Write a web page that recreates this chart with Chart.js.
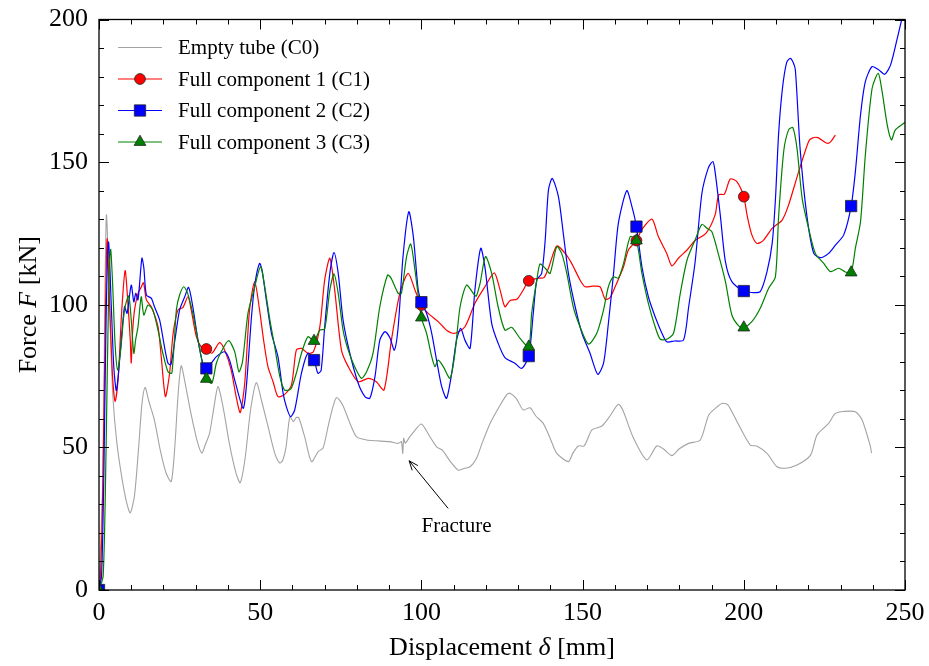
<!DOCTYPE html>
<html>
<head>
<meta charset="utf-8">
<script src="https://cdn.jsdelivr.net/npm/chart.js@4/dist/chart.umd.min.js"></script>
<style>
  html, body { margin: 0; padding: 0; background: #fff; }
  #wrap { width: 929px; height: 666px; }
</style>
</head>
<body>
<div id="wrap"><canvas id="forceChart" width="929" height="666"></canvas></div>
<script>
(function () {
  'use strict';

  // Empty tube (C0)
  const c0X = [0, 1.2, 1.8, 2.3, 3.0, 3.6, 4.3, 5.5, 7, 8.5, 9.7, 11, 12.3, 13.3, 14.3, 15.5, 17.2, 19, 20.8, 22.4,
    23.5, 24.5, 25.5, 26.8, 28.5, 30.5, 31.9, 33, 34.3, 35.5, 36.9, 38.5, 40.5, 42.5, 43.8, 45.3, 47, 48.8, 50.5, 52.5,
    54.5, 56.1, 57, 58, 59.2, 60.3, 61.2, 62, 63.8, 65.9, 68, 69.5, 71, 72.5, 73.7, 75.5, 78, 79.9, 83, 86,
    90.2, 92.8, 93.8, 94.2, 94.5, 95, 96.4, 98, 100, 102.5, 104.7, 106.5, 109, 111.4, 113, 115.1, 117.1, 119, 121.3, 124,
    126.5, 127.5, 129.5, 131.6, 133.7, 135.5, 137.8, 140, 142, 145.6, 147, 148.7, 150.5, 152.9, 156, 158.5, 161.1, 162.5, 165.8, 169.9,
    173, 175, 177.7, 180, 182.9, 186.5, 189.1, 191.5, 193.2, 195, 197.9, 202, 204, 207.2, 210.3, 212.9, 216.5, 220.7, 222.7, 226.3,
    228.4, 231, 234.6, 236.7, 239.3, 239.6];
  const c0Y = [0, 40, 100, 131.5, 112, 88, 68, 52, 40, 31, 27, 33, 50, 65, 71, 66, 59.5, 49, 41, 38,
    50, 68, 78.6, 72, 62, 52, 48, 51, 55, 63, 71.3, 64, 51, 41, 37.6, 46, 63, 72.7, 66, 57,
    48, 44.5, 45.5, 50, 60.8, 59, 60.5, 60.3, 53.7, 45, 48.5, 49.8, 57, 64, 67.5, 65, 58, 53.7, 52.6, 52.3,
    52, 51.4, 52, 47.9, 53.2, 51.5, 53.7, 56, 58.2, 54, 50.2, 49, 45, 42, 42.5, 43.2, 46.2, 52, 58.4, 64,
    68.5, 69, 67, 63.1, 63.9, 61, 58.4, 53, 47.9, 45, 48, 50.5, 50.5, 56.1, 57.5, 61, 65.1, 63, 53.2, 45.6,
    50.5, 49.5, 47.1, 49.5, 51.4, 52.6, 61.3, 64, 65.4, 65, 59, 50.8, 50.5, 47.9, 43.2, 42.7, 43.8, 47.3, 54.3, 58.4,
    61.9, 62.6, 62.5, 59.6, 50.2, 48];

  // Full component 1 (C1)
  const c1X = [0.3, 1.0, 1.7, 2.5, 3.3, 4.2, 5.0, 6, 7, 8.1, 9, 9.7, 10, 10.4, 11, 12.1, 13, 13.8, 14.7, 16.2,
    18.3, 19.3, 20.6, 21.9, 23, 24.5, 26, 27.6, 28.6, 30.2, 31.8, 33.3, 35, 37.4, 39, 41, 42.5, 43.8, 45.2, 46.7,
    48.3, 49.8, 51, 52.4, 54, 55.5, 57.5, 59.7, 61.2, 62.8, 64.8, 66.5, 68.5, 70, 71.6, 73.1, 75.2, 77.3, 80.4, 83.5,
    86, 88.4, 90.7, 93.3, 95.9, 98, 100, 102.1, 105.2, 107.8, 110.4, 113.5, 116.6, 119.7, 122.6, 124.4, 125.9, 127.5, 129.6, 131.5,
    133.3, 136.3, 138, 139.4, 142, 144.6, 146.6, 149.2, 150.8, 153, 155.4, 157, 158.5, 160.1, 162.7, 164.2, 166.7, 168.4, 171.5, 173.5,
    176.1, 177.7, 179.7, 182.4, 184.9, 188.3, 191.1, 192.2, 194, 195.8, 197.9, 200, 201, 202.5, 204.1, 206, 208.8, 211.9, 213.9, 217,
    220.1, 221.2, 223, 225.8, 227, 228.4];
  const c1Y = [0, 25, 75, 123, 100, 75, 66, 75, 97, 112, 100, 87.6, 79.6, 90, 98, 104, 106, 107.7, 101.7, 99.3,
    92.3, 81.8, 67.8, 76, 90, 98.2, 99, 102.8, 98.2, 88.8, 85, 84.5, 83, 86.7, 84, 77.1, 68, 62.2, 72.5, 98.2,
    108.1, 98.2, 88, 78.3, 73, 67.8, 68.5, 71.9, 84.1, 84.7, 83, 83.5, 92.3, 108.7, 116.3, 105.2, 84.1, 78.3, 73, 74.2,
    73, 70.1, 87.6, 104, 111, 105.2, 99.9, 97, 94.1, 91.1, 90, 92.3, 100.5, 106.3, 111.2, 105.2, 99.3, 101.5, 101.9, 105,
    108.4, 109.3, 109.5, 112.8, 120.6, 118, 114.5, 108.7, 106.3, 106.5, 106.3, 101.9, 102.5, 106.3, 113.3, 119.2, 122.5, 126.4, 130, 123.9,
    118, 113.6, 116.3, 119.2, 122.5, 125.1, 131.5, 138.5, 138.8, 144.1, 143.1, 137.9, 131.5, 124.5, 121.5, 122.5, 126.8, 129.7, 135, 146.6,
    157.2, 158.4, 158.6, 156.6, 157.2, 159.5];

  // Full component 2 (C2)
  const c2X = [0, 0.8, 1.5, 2.2, 2.95, 3.8, 4.6, 5.4, 6.5, 7.9, 8.7, 10, 10.8, 11.4, 12.1, 13.3, 13.9, 14.7, 16.2, 17.2,
    18.8, 20.3, 21.4, 22.3, 23.4, 25, 26.6, 27.8, 29.1, 30.7, 32.2, 33.3, 34.8, 36.4, 39, 40.5, 42.1, 44.7, 45.7, 47.3,
    48.3, 49.8, 50.6, 51.9, 53.5, 55.5, 57.1, 58.1, 59.4, 60.7, 62.8, 64.8, 66.7, 67.9, 68.9, 70, 71.6, 72.9, 74.2, 75.7,
    77.8, 80.4, 82.5, 84, 85.6, 87.1, 88.7, 90.2, 91.6, 92.8, 94.3, 96.1, 97.5, 99, 100, 101.6, 103.2, 104.7, 106.3, 107.8,
    109.4, 110.9, 112.2, 113.5, 115.1, 116.6, 118.4, 119.7, 121.8, 123.8, 125.9, 129, 131.1, 133.3, 134.7, 135.8, 137.3, 138.4, 139.4, 140.6,
    142.5, 144, 145.6, 147.7, 149.8, 152.3, 154.7, 156.5, 158, 159.6, 161.1, 163.7, 165.3, 166.7, 168.4, 170.4, 172.5, 174.6, 176.1, 178.5,
    181.3, 182.9, 184.9, 187, 189, 190.4, 191.1, 192.7, 194.3, 196.3, 200, 202.5, 205.1, 207.2, 208.8, 209.8, 210.8, 212, 213.3, 214.4,
    215.3, 216, 217.5, 219.6, 221.7, 223.8, 226.3, 228.4, 231, 233.3, 234.6, 236.2, 237.7, 239.8, 241.9, 243.7, 245.5, 247.6, 249.1, 250];
  const c2Y = [0, 5, 40, 95, 122, 100, 78, 69.9, 82, 99.3, 97, 106.9, 101, 104, 101.7, 116.3, 113, 103.4, 102.3, 99.3,
    94.7, 85.3, 79.5, 79, 86.5, 98.2, 102.8, 106.1, 99.3, 87.6, 79.5, 77.7, 79.5, 81.8, 83.5, 80.6, 73.6, 63.7, 71.3, 95.8,
    106.9, 114.5, 112, 101.7, 90, 81.8, 69, 64.3, 60.8, 63.1, 76, 83, 80.6, 76, 77, 92.3, 111, 118.3, 111, 94.7,
    83, 72.5, 67.8, 67.2, 74.8, 87.6, 90.6, 88.5, 84.1, 92.3, 116.9, 132.6, 123.9, 105.2, 100.9, 97, 90, 80.6, 71.3, 67.2,
    76, 87.6, 91.7, 87.6, 84.7, 105.2, 119.8, 113.3, 93.5, 86.5, 81.5, 79.5, 77.7, 82, 97, 108.7, 111, 122.7, 140.2, 144.3,
    137.9, 125.1, 111, 99.3, 90, 83, 75.6, 79.5, 93.5, 111, 128.6, 140, 134.4, 127.4, 113.3, 102.8, 95.8, 90, 87, 87.3,
    87.6, 99.3, 115, 139, 148, 150.2, 146.6, 131.5, 115.1, 108.1, 104.8, 104.3, 104.6, 111.6, 121.5, 136.7, 160, 176, 185, 186.4,
    185, 182.3, 154.2, 130.9, 118, 116.5, 118, 120.9, 124.5, 134.6, 146.6, 166.5, 178.2, 183.5, 182.3, 180.8, 184, 193.4, 200.4, 203];

  // Full component 3 (C3)
  const c3X = [0, 1.3, 2.2, 3.0, 3.6, 4.2, 5.0, 5.8, 6.8, 7.9, 9.2, 10, 10.8, 11.4, 12.1, 13.1, 13.9, 15.2, 16.7, 18.3,
    19.8, 21.4, 22.6, 24, 25, 26.3, 27.5, 29.1, 30.7, 32, 33.3, 35, 36.4, 37.9, 40.2, 42.1, 43.4, 44.5, 46.2, 47.8,
    50.1, 51.4, 53, 54.5, 56.1, 57.6, 59.5, 61.2, 62.8, 64.8, 66.7, 68.5, 70, 71.6, 72.9, 74.2, 75.7, 77.3, 79.3, 81.4,
    83, 85, 87.1, 89.5, 90.5, 92.8, 93.8, 95.4, 96.7, 98, 100, 101.6, 103.2, 104.2, 105.2, 106.8, 108.9, 110.4, 112, 114,
    116.1, 117, 118.2, 119.9, 121.8, 123.8, 125.9, 128, 130.6, 133.3, 134.2, 135.8, 136.8, 138.4, 139.9, 142, 143.5, 145.1, 147.1, 149.2,
    151.8, 154.4, 156.5, 158, 159.6, 161.1, 162.7, 164.8, 166.7, 168.4, 170.4, 172.5, 174.1, 176.1, 178.2, 180.3, 182.4, 184.9, 187, 188.6,
    190.1, 192.2, 194.3, 196.3, 198.5, 200, 202.5, 205.1, 207.7, 209.8, 210.8, 212.4, 213.9, 215.2, 216.5, 218.1, 220.1, 222.2, 224.8, 226.9,
    229.4, 231.5, 233.3, 234.6, 236.2, 237.7, 239.8, 241.7, 242.9, 244.5, 245.8, 247, 249.6, 250];
  const c3Y = [0, 5, 50, 105, 119.4, 108, 86, 77.1, 85, 98.2, 103.1, 94.7, 83, 88, 92.3, 102.8, 96.4, 99.9, 98.2, 91.1,
    83, 76.5, 76, 98.2, 103.4, 106.3, 104, 97, 87.6, 80, 74, 72.5, 79.5, 83.5, 87.4, 83.5, 76.5, 80, 97, 104,
    113.3, 106.3, 94.7, 85.3, 74.8, 70.1, 70.5, 76, 83, 88.8, 87.3, 91.1, 91.5, 105.2, 110.8, 104, 91.1, 84.1, 78.3, 74.2,
    76.5, 83, 99.3, 110.4, 109.5, 104, 104, 116.9, 121.3, 112.2, 95.5, 90, 81.8, 78.3, 80.6, 78.3, 74.2, 83, 99.3, 106.9,
    104, 103, 107.5, 116.9, 111, 99.3, 91.1, 92.1, 88.2, 85.3, 97, 108.7, 114.3, 112.8, 111, 120.4, 118, 111, 99.3, 92.3,
    86.2, 90, 98.2, 106.3, 109.8, 109.3, 114.5, 123.9, 122.5, 111, 100.5, 92.3, 87.9, 87.9, 90, 104, 115.7, 122.7, 128.2, 126.8,
    125.6, 117.4, 108.1, 96.4, 92.5, 92, 94.1, 98.8, 105.8, 109.8, 131, 154, 161.3, 162.1, 154.8, 137.3, 126.8, 118, 114.5, 111.6,
    112.8, 111.5, 111.3, 119.8, 129.1, 152.5, 175.9, 181.1, 174.7, 163, 157.8, 161.3, 163.6, 164];

  // Marker positions (every 33.3 mm along each curve)
  const c1MarkX = [33.3, 100, 133.3, 166.7, 200];
  const c1MarkY = [84.5, 99.9, 108.4, 122.5, 137.9];
  const c2MarkX = [0, 33.3, 66.7, 100, 133.3, 166.7, 200, 233.3];
  const c2MarkY = [0, 77.7, 80.6, 100.9, 82, 127.4, 104.8, 134.6];
  const c3MarkX = [0, 33.3, 66.7, 100, 133.3, 166.7, 200, 233.3];
  const c3MarkY = [0, 74, 87.3, 95.5, 85.3, 122.5, 92, 111.3];

  const seriesNames = ['Empty tube (C0)', 'Full component 1 (C1)', 'Full component 2 (C2)', 'Full component 3 (C3)'];
  const xTicks = [0, 50, 100, 150, 200, 250];
  const yTicks = [0, 50, 100, 150, 200];

  // Fracture note: arrow tip, arrow tail, text centre (data units)
  const fractureTip = [96.2, 45.3];
  const fractureTail = [108.3, 28.6];
  const fractureText = [110.9, 22.4];

  const colors = { c0: '#a3a3a3', c1: '#ff0000', c2: '#0000ff', c3: '#008000' };
  const serif = "'Liberation Serif', 'Times New Roman', serif";

  function pts(xs, ys) {
    return xs.map(function (x, i) { return { x: x, y: ys[i] }; });
  }

  function lineSet(label, xs, ys, color, width, order) {
    return {
      label: label,
      data: pts(xs, ys),
      showLine: true,
      borderColor: color,
      borderWidth: width,
      pointRadius: 0,
      pointHoverRadius: 0,
      tension: 0.25,
      fill: false,
      order: order,
    };
  }

  function markSet(label, xs, ys, color, style, radius, order) {
    return {
      label: label,
      data: pts(xs, ys),
      showLine: false,
      pointStyle: style,
      pointRadius: radius,
      pointBackgroundColor: color,
      pointBorderColor: '#222',
      pointBorderWidth: 0.8,
      order: order,
    };
  }

  function drawMarker(ctx, style, x, y, r, color) {
    ctx.save();
    ctx.fillStyle = color;
    ctx.strokeStyle = '#222';
    ctx.lineWidth = 0.8;
    ctx.beginPath();
    if (style === 'circle') {
      ctx.arc(x, y, r, 0, Math.PI * 2);
    } else if (style === 'rect') {
      const s = Math.SQRT1_2 * r;
      ctx.rect(x - s, y - s, 2 * s, 2 * s);
    } else {
      ctx.moveTo(x, y - r);
      ctx.lineTo(x + Math.sin(2 * Math.PI / 3) * r, y + r / 2);
      ctx.lineTo(x - Math.sin(2 * Math.PI / 3) * r, y + r / 2);
      ctx.closePath();
    }
    ctx.fill();
    ctx.stroke();
    ctx.restore();
  }

  // draws mixed upright/italic text starting at x
  function drawRich(ctx, parts, x, y, size) {
    let cx = x;
    parts.forEach(function (p) {
      ctx.font = (p[1] ? 'italic ' : '') + size + 'px ' + serif;
      ctx.fillText(p[0], cx, y);
      cx += ctx.measureText(p[0]).width;
    });
  }
  function richWidth(ctx, parts, size) {
    let w = 0;
    parts.forEach(function (p) {
      ctx.font = (p[1] ? 'italic ' : '') + size + 'px ' + serif;
      w += ctx.measureText(p[0]).width;
    });
    return w;
  }

  const framePlugin = {
    id: 'frameTicks',
    afterDraw: function (chart) {
      const ctx = chart.ctx;
      const a = chart.chartArea;
      const xs = chart.scales.x;
      const ys = chart.scales.y;
      ctx.save();
      ctx.strokeStyle = '#000';
      ctx.lineWidth = 1.3;
      ctx.strokeRect(a.left, a.top, a.right - a.left, a.bottom - a.top);

      // inward ticks on all four sides, minor every 10
      ctx.lineWidth = 1;
      ctx.beginPath();
      for (let v = 0; v <= 250; v += 10) {
        const px = Math.round(xs.getPixelForValue(v)) + 0.5;
        const len = v % 50 === 0 ? 10 : 5;
        ctx.moveTo(px, a.bottom); ctx.lineTo(px, a.bottom - len);
        ctx.moveTo(px, a.top); ctx.lineTo(px, a.top + len);
      }
      for (let v = 0; v <= 200; v += 10) {
        const py = Math.round(ys.getPixelForValue(v)) + 0.5;
        const len = v % 50 === 0 ? 10 : 5;
        ctx.moveTo(a.left, py); ctx.lineTo(a.left + len, py);
        ctx.moveTo(a.right, py); ctx.lineTo(a.right - len, py);
      }
      ctx.stroke();

      // axis titles
      ctx.fillStyle = '#000';
      ctx.textBaseline = 'alphabetic';
      const xt = [['Displacement ', false], ['δ', true], [' [mm]', false]];
      const xw = richWidth(ctx, xt, 26);
      drawRich(ctx, xt, (a.left + a.right) / 2 - xw / 2, 655, 26);

      const yt = [['Force ', false], ['F', true], [' [kN]', false]];
      const yw = richWidth(ctx, yt, 26);
      ctx.save();
      ctx.translate(36, (a.top + a.bottom) / 2);
      ctx.rotate(-Math.PI / 2);
      drawRich(ctx, yt, -yw / 2, 0, 26);
      ctx.restore();

      // legend
      const rows = [
        { color: colors.c0, style: null, w: 1.1 },
        { color: colors.c1, style: 'circle', r: 5.4, w: 1.2 },
        { color: colors.c2, style: 'rect', r: 8, w: 1.2 },
        { color: colors.c3, style: 'triangle', r: 6.8, w: 1.2 },
      ];
      ctx.font = '21px ' + serif;
      ctx.textBaseline = 'middle';
      rows.forEach(function (row, i) {
        const y = 47.5 + i * 31.5;
        ctx.strokeStyle = row.color;
        ctx.lineWidth = row.w;
        ctx.beginPath();
        ctx.moveTo(118, y);
        ctx.lineTo(162, y);
        ctx.stroke();
        if (row.style) drawMarker(ctx, row.style, 140, y, row.r, row.color);
        ctx.fillStyle = '#000';
        ctx.fillText(seriesNames[i], 178, y + 1);
      });

      // fracture annotation
      const tx = xs.getPixelForValue(fractureTip[0]);
      const ty = ys.getPixelForValue(fractureTip[1]);
      const sx = xs.getPixelForValue(fractureTail[0]);
      const sy = ys.getPixelForValue(fractureTail[1]);
      const ang = Math.atan2(ty - sy, tx - sx);
      ctx.strokeStyle = '#000';
      ctx.lineWidth = 1;
      ctx.beginPath();
      ctx.moveTo(sx, sy);
      ctx.lineTo(tx, ty);
      ctx.moveTo(tx - 10 * Math.cos(ang - 0.38), ty - 10 * Math.sin(ang - 0.38));
      ctx.lineTo(tx, ty);
      ctx.lineTo(tx - 10 * Math.cos(ang + 0.38), ty - 10 * Math.sin(ang + 0.38));
      ctx.stroke();
      ctx.font = '21px ' + serif;
      ctx.textAlign = 'center';
      ctx.textBaseline = 'middle';
      ctx.fillText('Fracture', xs.getPixelForValue(fractureText[0]), ys.getPixelForValue(fractureText[1]));
      ctx.restore();
    },
  };

  new Chart(document.getElementById('forceChart'), {
    type: 'scatter',
    data: {
      datasets: [
        markSet('C3 markers', c3MarkX, c3MarkY, colors.c3, 'triangle', 6.8, 0),
        markSet('C2 markers', c2MarkX, c2MarkY, colors.c2, 'rect', 8, 1),
        markSet('C1 markers', c1MarkX, c1MarkY, colors.c1, 'circle', 5.4, 2),
        lineSet(seriesNames[3], c3X, c3Y, colors.c3, 1.2, 3),
        lineSet(seriesNames[2], c2X, c2Y, colors.c2, 1.2, 4),
        lineSet(seriesNames[1], c1X, c1Y, colors.c1, 1.2, 5),
        lineSet(seriesNames[0], c0X, c0Y, colors.c0, 1.1, 6),
      ],
    },
    options: {
      responsive: false,
      animation: false,
      devicePixelRatio: 1,
      layout: { padding: { left: 0, right: 24, top: 19.5, bottom: 0 } },
      plugins: {
        legend: { display: false },
        tooltip: { enabled: false },
      },
      scales: {
        x: {
          type: 'linear',
          min: 0,
          max: 250,
          grid: { display: false },
          border: { display: false },
          afterFit: function (s) {
            s.height = 76;
            s.paddingLeft = 0;
            s.paddingRight = 0;
          },
          afterBuildTicks: function (s) { s.ticks = xTicks.map(function (v) { return { value: v }; }); },
          ticks: {
            autoSkip: false,
            maxRotation: 0,
            padding: 0,
            color: '#000',
            font: { family: serif, size: 26 },
          },
        },
        y: {
          type: 'linear',
          min: 0,
          max: 200,
          grid: { display: false },
          border: { display: false },
          afterFit: function (s) {
            s.width = 99;
            s.paddingTop = 0;
            s.paddingBottom = 0;
          },
          afterBuildTicks: function (s) { s.ticks = yTicks.map(function (v) { return { value: v }; }); },
          ticks: {
            autoSkip: false,
            padding: 3,
            color: '#000',
            font: { family: serif, size: 26 },
          },
        },
      },
    },
    plugins: [framePlugin],
  });
})();
</script>
</body>
</html>
